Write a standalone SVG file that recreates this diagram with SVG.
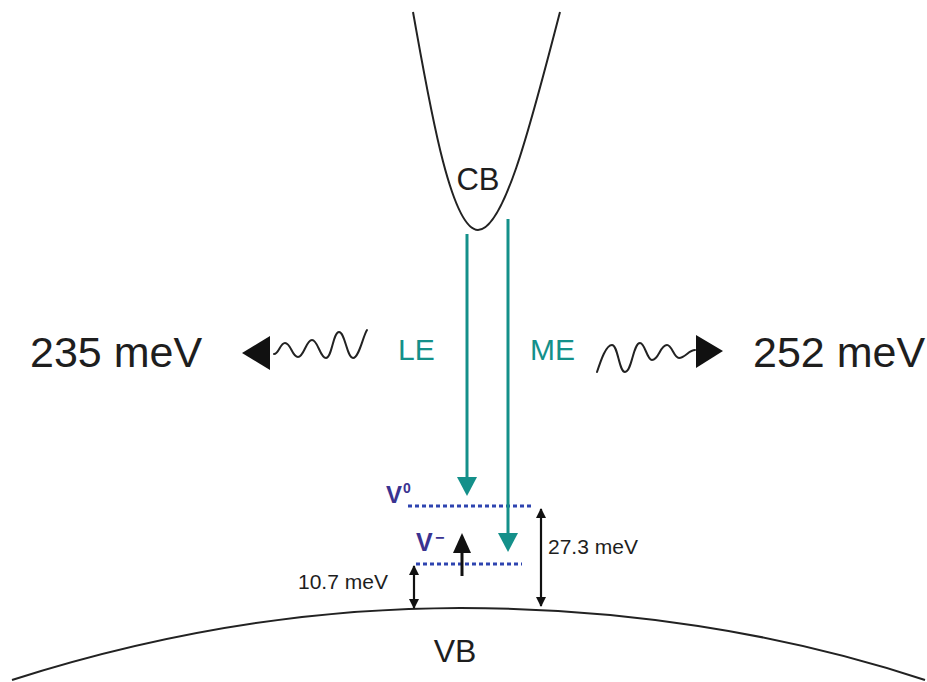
<svg xmlns="http://www.w3.org/2000/svg" width="927" height="682" viewBox="0 0 927 682">
<style>
.band{fill:none;stroke:#222;stroke-width:2}
.txt{font-family:"Liberation Sans",Arial,sans-serif;fill:#1e1e1e}
.tealtxt{font-family:"Liberation Sans",Arial,sans-serif;fill:#14908a}
.dot{stroke:#2e44b0;stroke-width:3;stroke-dasharray:4 3;fill:none}
.vl{font-family:"Liberation Sans",Arial,sans-serif;fill:#3a3391;font-weight:bold}
.blk{stroke:#111;stroke-width:2.2;fill:none}
.wave{stroke:#222;stroke-width:2;fill:none;stroke-linecap:round}
</style>
<defs>
<marker id="blkHead" markerWidth="10" markerHeight="10" refX="9" refY="5" orient="auto-start-reverse" markerUnits="userSpaceOnUse">
<path d="M0,0 L10,5 L0,10 z" fill="#111"/>
</marker>
</defs>
<g id="CB">
<path class="band" d="M413,12 C428,95 450,230 478,230 C505,230 533,115 560,12"/>
<text class="txt" x="478" y="190" font-size="31" text-anchor="middle">CB</text>
</g>
<g id="VB">
<path class="band" d="M12,680 C150,636 300,608 460,608 C620,608 780,632 925,680"/>
<text class="txt" x="455" y="662" font-size="32" text-anchor="middle">VB</text>
</g>
<g id="V0">
<line class="dot" x1="408" y1="506" x2="532" y2="506"/>
<text class="vl" x="386" y="503" font-size="24">V</text>
<text class="vl" x="403" y="493" font-size="14">0</text>
</g>
<g id="Vminus">
<line class="dot" x1="416" y1="564" x2="522" y2="564"/>
<text class="vl" x="416" y="551" font-size="25">V</text>
<text class="vl" x="435" y="543" font-size="16">−</text>
</g>
<g id="LE-label"><text class="tealtxt" x="398" y="360" font-size="30">LE</text></g>
<g id="ME-label"><text class="tealtxt" x="530" y="360" font-size="30">ME</text></g>
<g id="photon-left">
<path class="wave" d="M274,354 C279,354 280,343 285,343 C291,343 292,357 298,357 C304,357 306,340 312,340 C318,340 320,358 326,358 C332,358 333,332 339,332 C345,332 347,358 353,358 C359,358 363,336 367,330"/>
<polygon points="242,353 270,336 270,370" fill="#111"/>
<text class="txt" x="30" y="367" font-size="43">235 meV</text>
</g>
<g id="photon-right">
<path class="wave" d="M597,372 C601,360 606,345 612,345 C618,345 619,372 625,372 C632,372 633,343 640,343 C645,343 647,360 652,360 C659,360 660,345 667,345 C672,345 674,358 679,358 C685,358 689,350 695,350"/>
<polygon points="696,335 723,351 696,368" fill="#111"/>
<text class="txt" x="753" y="367" font-size="43">252 meV</text>
</g>
<g id="connectors">
<line x1="467" y1="234" x2="467" y2="478" stroke="#14908a" stroke-width="3"/>
<polygon points="457,477 477,477 467,496" fill="#14908a"/>
<line x1="508" y1="219" x2="508" y2="534" stroke="#14908a" stroke-width="3"/>
<polygon points="498,533 518,533 508,552" fill="#14908a"/>
<line x1="462" y1="576" x2="462" y2="552" stroke="#111" stroke-width="3"/>
<polygon points="453,553 471,553 462,533" fill="#111"/>
<line class="blk" x1="414" y1="566" x2="414" y2="608" marker-start="url(#blkHead)" marker-end="url(#blkHead)"/>
<line class="blk" x1="541" y1="509" x2="541" y2="606" marker-start="url(#blkHead)" marker-end="url(#blkHead)"/>
</g>
<g id="labels">
<text class="txt" x="298" y="589" font-size="21">10.7 meV</text>
<text class="txt" x="548" y="554" font-size="21">27.3 meV</text>
</g>
</svg>
